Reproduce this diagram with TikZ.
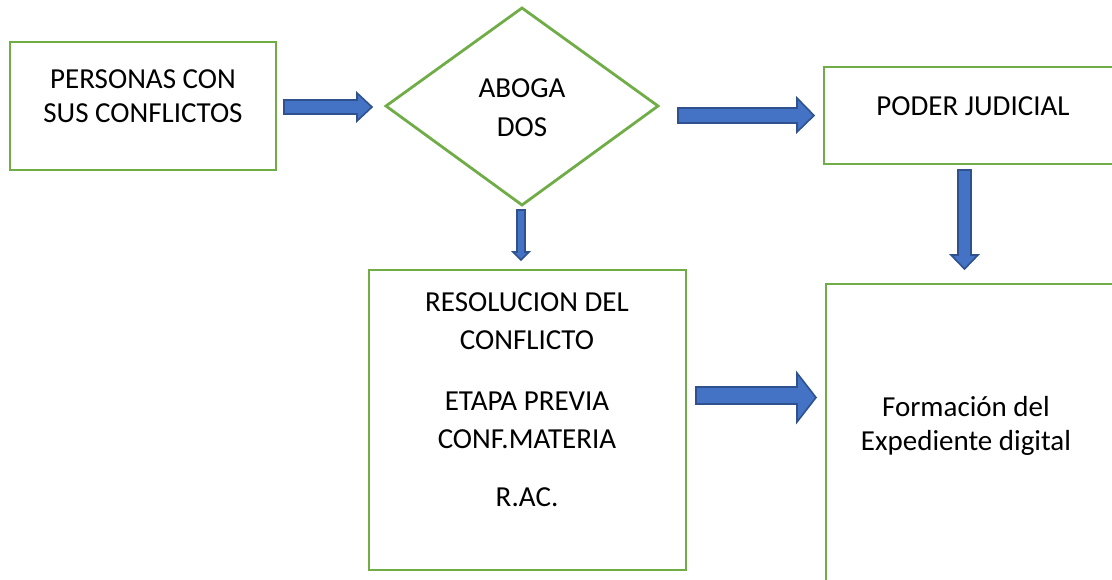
\documentclass[tikz,border=0pt]{standalone}
\usepackage{fontspec}
\setmainfont{Carlito}
\begin{document}
\begin{tikzpicture}[x=1pt,y=-1pt,
  box/.style={draw=boxgreen,line width=2.8pt,fill=white},
  blockarrow/.style={fill=arrowblue,draw=arrowedge,line width=1.6pt,line join=miter},
  lbl/.style={font=\fontsize{29}{34}\selectfont,inner sep=0pt,anchor=center}]
\definecolor{boxgreen}{HTML}{70AD47}
\definecolor{arrowblue}{HTML}{4472C4}
\definecolor{arrowedge}{HTML}{2F528F}
\useasboundingbox (0,0) rectangle (1112,580);
\clip (0,0) rectangle (1112,580);
% boxes
\draw[box] (10,42) rectangle (276,170);
\draw[box] (522,8) -- (658,106) -- (522,205) -- (386,106) -- cycle;
\draw[box] (824,67) rectangle (1130,164);
\draw[box] (369,270) rectangle (686,570);
\draw[box] (826,284) rectangle (1130,600);
% arrows
\draw[blockarrow] (284,100) -- (357,100) -- (357,93) -- (372,107) -- (357,121) -- (357,114) -- (284,114) -- cycle;
\draw[blockarrow] (678,108) -- (797,108) -- (797,98) -- (814,115.5) -- (797,132) -- (797,123) -- (678,123) -- cycle;
\draw[blockarrow] (517,210) -- (525,210) -- (525,252) -- (529,252) -- (521,260) -- (513,252) -- (517,252) -- cycle;
\draw[blockarrow] (958,170) -- (971,170) -- (971,255) -- (978,255) -- (964.5,269) -- (951,255) -- (958,255) -- cycle;
\draw[blockarrow] (696,387) -- (797,387) -- (797,373) -- (816,397.5) -- (797,422) -- (797,404) -- (696,404) -- cycle;
% texts
\node[lbl] (t1) at (143,79) {PERSONAS CON};
\node[lbl] (t2) at (143,113) {SUS CONFLICTOS};
\node[lbl] (t3) at (522,88) {ABOGA};
\node[lbl] (t4) at (522,127) {DOS};
\node[lbl] (t5) at (973,106) {PODER JUDICIAL};
\node[lbl] (t6) at (527,302) {RESOLUCION DEL};
\node[lbl] (t7) at (527,340) {CONFLICTO};
\node[lbl] (t8) at (527,401) {ETAPA PREVIA};
\node[lbl] (t9) at (527,439) {CONF.MATERIA};
\node[lbl] (t10) at (527,497) {R.AC.};
\node[lbl] (t11) at (966,407) {Formación del};
\node[lbl] (t12) at (966,443) {Expediente digital};
\end{tikzpicture}
\end{document}
